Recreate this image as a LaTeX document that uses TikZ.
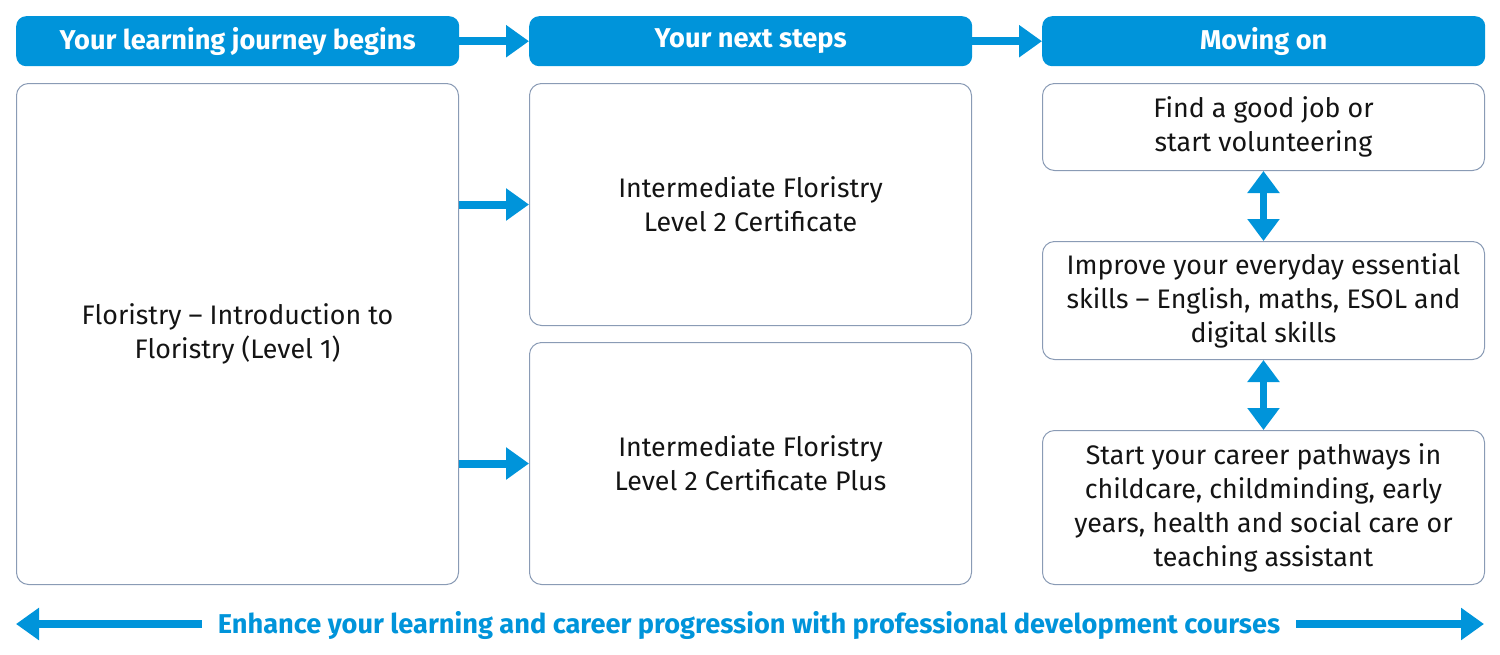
\documentclass[tikz,border=0pt]{standalone}
\usepackage{fontspec}
\setmainfont{Fira Sans}
\usetikzlibrary{arrows.meta}
\definecolor{cblue}{RGB}{0,148,218}
\definecolor{cborder}{RGB}{138,155,181}
\definecolor{ctext}{RGB}{20,20,20}
\begin{document}
\begin{tikzpicture}[x=1pt,y=-1pt,
 hdr/.style={fill=cblue, rounded corners=10pt, minimum height=50pt, minimum width=443pt, text=white,
   font=\bfseries\fontsize{27.2}{30}\selectfont, inner sep=0pt, anchor=north west},
 box/.style={draw=cborder, line width=1pt, rounded corners=12pt, align=center, text=ctext,
   font=\fontsize{26.8}{34}\selectfont, inner sep=0pt, anchor=north west, minimum width=442pt},
 bigarrow/.style={draw=cblue, line width=8pt, -{Triangle[length=23pt,width=31pt]}},
 dblarrow/.style={draw=cblue, line width=7pt, {Triangle[length=22pt,width=31pt]}-{Triangle[length=22pt,width=31pt]}},
]
\useasboundingbox (0,0) rectangle (1500,654);
% headers
\node[hdr] (h1) at (16,16) {Your learning journey begins};
\node[hdr] (h2) at (529,16) {Your next steps};
\node[hdr] (h3) at (1042,16) {Moving on};
\draw[bigarrow] (h1.east) -- (h2.west);
\draw[bigarrow] (h2.east) -- (h3.west);
% left
\node[box, minimum height=501pt] (a) at (16,83) {Floristry -- Introduction to\\Floristry (Level 1)};
% middle
\node[box, minimum height=242pt] (m1) at (529,83) {Intermediate Floristry\\Level 2 Certificate};
\node[box, minimum height=242pt] (m2) at (529,342) {Intermediate Floristry\\Level 2 Certificate Plus};
\draw[bigarrow] (a.east |- m1.west) -- (m1.west);
\draw[bigarrow] (a.east |- m2.west) -- (m2.west);
% right
\node[box, minimum height=87pt] (r1) at (1042,83) {Find a good job or\\start volunteering};
\node[box, minimum height=118pt] (r2) at (1042,241) {Improve your everyday essential\\skills -- English, maths, ESOL and\\digital skills};
\node[box, minimum height=154pt] (r3) at (1042,430) {Start your career pathways in\\childcare, childminding, early\\years, health and social care or\\teaching assistant};
\draw[dblarrow] (r1.south) -- (r2.north);
\draw[dblarrow] (r2.south) -- (r3.north);
% bottom
\node[text=cblue, font=\bfseries\fontsize{27.2}{30}\selectfont, inner xsep=16pt, inner ysep=0pt] (bt) at (749,625)
  {Enhance your learning and career progression with professional development courses};
\coordinate (bl) at (16,624);
\coordinate (br) at (1484,624);
\draw[bigarrow] (bt.west |- bl) -- (bl);
\draw[bigarrow] (bt.east |- br) -- (br);
\end{tikzpicture}
\end{document}
